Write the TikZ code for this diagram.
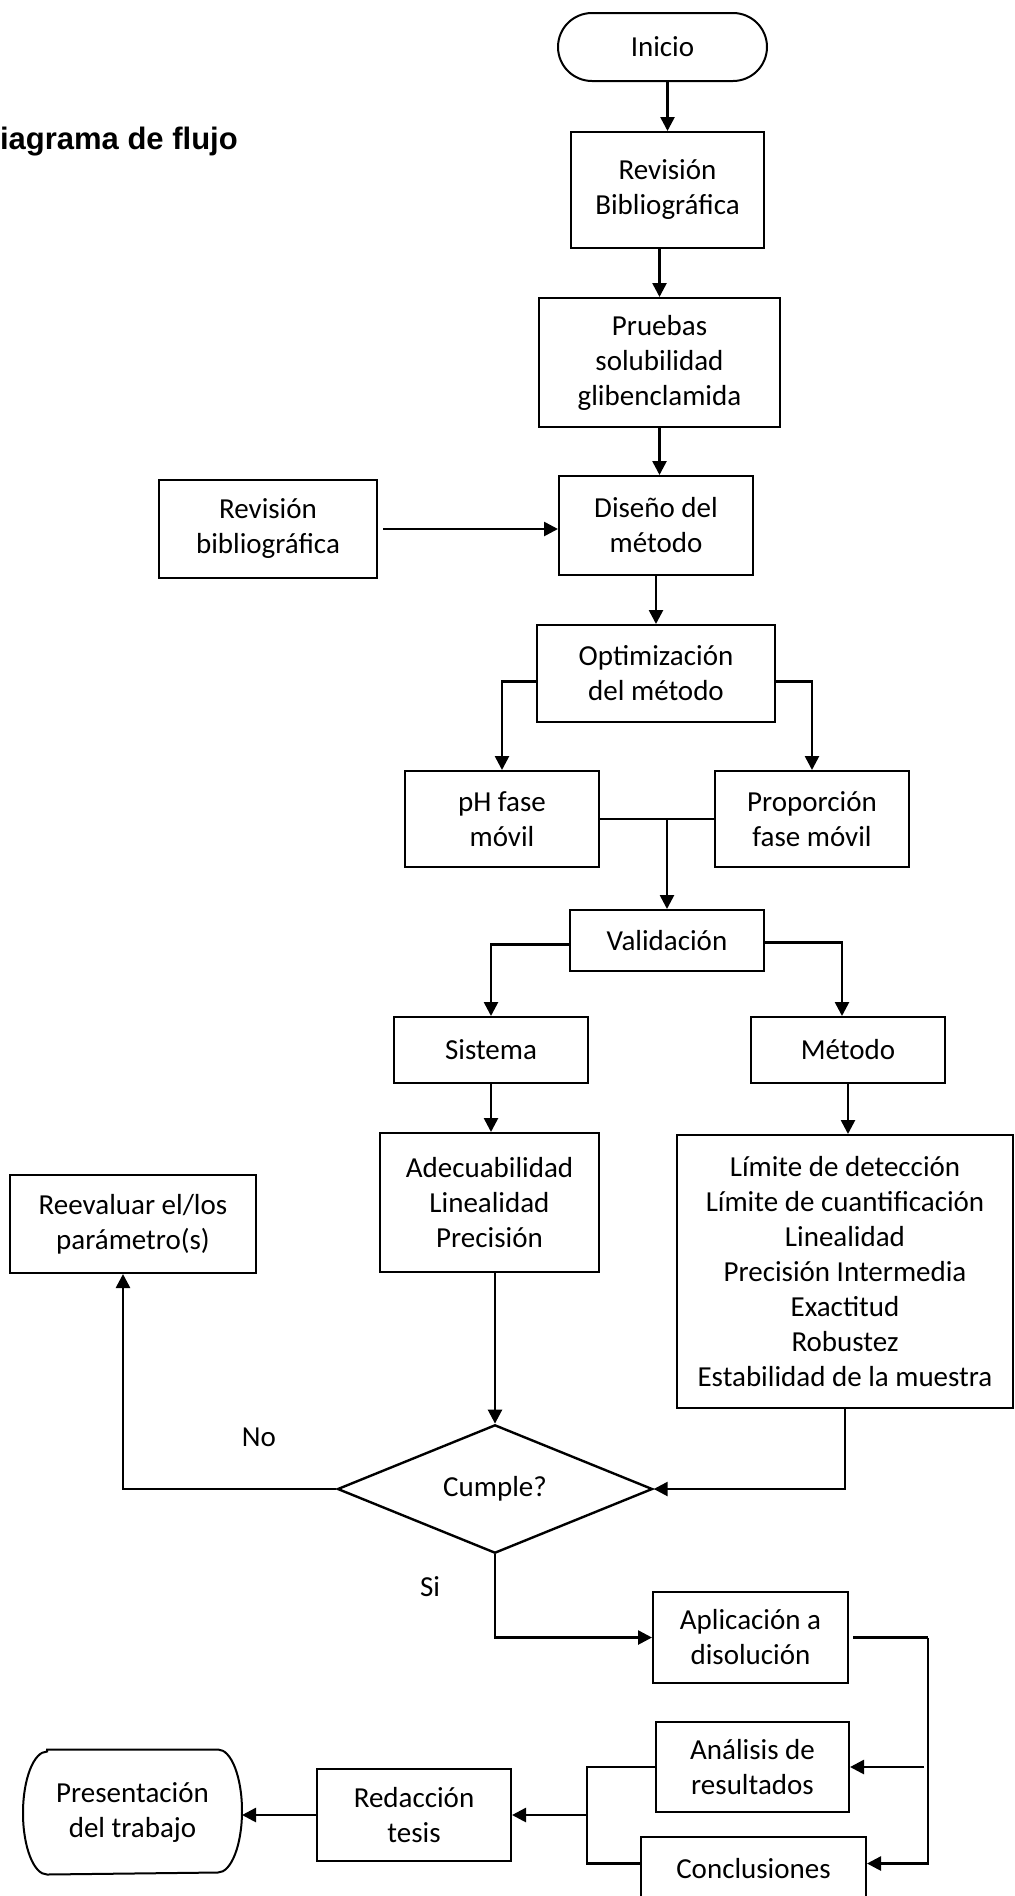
\documentclass[tikz,border=0pt]{standalone}
\usepackage{fontspec}
\setmainfont{Carlito}
\newfontfamily\titulofont{Liberation Sans}
\usetikzlibrary{arrows.meta,shapes.geometric,shapes.misc}

\begin{document}
\begin{tikzpicture}[x=0.5pt,y=-0.5pt,font=\fontsize{14.5}{17.5}\selectfont]
        \tikzset{
        caja/.style={draw, line width=1pt, align=center, inner sep=0pt},
        tam/.style 2 args={minimum width=#1*0.5pt, minimum height=#2*0.5pt},
        term/.style={rounded rectangle, draw, line width=1pt, align=center, inner sep=0pt},
        decision/.style={diamond, draw, line width=1.2pt, inner sep=0pt},
        flecha/.style={-{Triangle[length=7pt,width=7pt]}, line width=1.3pt},
        linea/.style={-, line width=1.3pt}
        }
        \useasboundingbox (0,0) rectangle (1015,1896);
        \clip (0,0) rectangle (1015,1896);

        \node[anchor=base west, font=\titulofont\bfseries\fontsize{15.5}{18}\selectfont] (titulo) at (-7,149) {iagrama de flujo};

        \node[term, tam={209}{68}] (inicio) at (662.5,47) {Inicio};
        \node[caja, tam={193}{116}] (revbib) at (667.5,190) {Revisión\\Bibliográfica};
        \node[caja, tam={241}{129}] (pruebas) at (659.5,362.5) {Pruebas\\solubilidad\\glibenclamida};
        \node[caja, tam={194}{99}] (diseno) at (656,525.5) {Diseño del\\método};
        \node[caja, tam={218}{98}] (revbib2) at (268,529) {Revisión\\bibliográfica};
        \node[caja, tam={238}{97}] (optim) at (656,673.5) {Optimización\\del método};
        \node[caja, tam={194}{96}] (ph) at (502,819) {pH fase\\móvil};
        \node[caja, tam={194}{96}] (prop) at (812,819) {Proporción\\fase móvil};
        \node[caja, tam={194}{61}] (valid) at (667,940.5) {Validación};
        \node[caja, tam={194}{66}] (sistema) at (491,1050) {Sistema};
        \node[caja, tam={194}{66}] (metodo) at (848,1050) {Método};
        \node[caja, tam={219}{139}] (adecua) at (489.5,1202.5) {Adecuabilidad\\Linealidad\\Precisión};
        \node[caja, tam={336}{273}] (limite) at (845,1271.5) {Límite de detección\\Límite de cuantificación\\Linealidad\\Precisión Intermedia\\Exactitud\\Robustez\\Estabilidad de la muestra};
        \node[caja, tam={246}{98}] (reeval) at (133,1224) {Reevaluar el/los\\parámetro(s)};
        \node[decision, tam={315}{107}] (cumple) at (495,1489) {Cumple?};
        \node (lblno) at (259,1437) {No};
        \node (lblsi) at (430,1587) {Si};
        \node[caja, tam={195}{91}] (aplic) at (750.5,1637.5) {Aplicación a\\disolución};
        \node[caja, tam={193}{90}] (analisis) at (752.5,1767) {Análisis de\\resultados};
        \node[caja, tam={225}{63}] (concl) at (753.5,1868.5) {Conclusiones};
        \node[caja, tam={194}{92}] (redac) at (414,1815) {Redacción\\tesis};
        \node[caja, draw=none, tam={217}{123}] (present) at (132.5,1812) {Presentación\\del trabajo};
        % borde del terminal final, con extremos elipticos
        \draw[line width=1pt] ([xshift=12pt]present.north west) -- ([xshift=-12pt]present.north east)
            arc[start angle=90, end angle=-90, x radius=12pt, y radius=30.75pt]
            -- ([xshift=12pt]present.south west)
            arc[start angle=270, end angle=90, x radius=12pt, y radius=30.75pt] -- cycle;

        % flujo principal
        \draw[flecha] (inicio.south -| revbib.north) -- (revbib.north);
        \draw[flecha] (pruebas.north |- revbib.south) -- (pruebas.north);
        \draw[flecha] (pruebas.south) -- (pruebas.south |- diseno.north);
        \draw[flecha] ([xshift=2.5pt]revbib2.east) -- (revbib2.east -| diseno.west);
        \draw[flecha] (diseno) -- (optim);
        \draw[flecha] ([yshift=-4pt]optim.west) -| (ph.north);
        \draw[flecha] ([yshift=-4pt]optim.east) -| (prop.north);
        \draw[linea] (ph.east) -- (prop.west);
        \draw[flecha] (valid.north |- ph.east) -- (valid.north);
        \draw[flecha] ([yshift=-2pt]valid.west) -| (sistema.north);
        \draw[flecha] ([yshift=-1pt]valid.east) -| ([xshift=-3pt]metodo.north);
        \draw[flecha] (sistema) -- (sistema |- adecua.north);
        \draw[flecha] (metodo) -- (metodo |- limite.north);

        % decision
        \draw[flecha] (adecua.south -| cumple.north) -- (cumple.north);
        \draw[flecha] (cumple.west) -| ([xshift=-5pt]reeval.south);
        \draw[flecha] (limite.south) |- (cumple.east);
        \draw[flecha] (cumple.south) |- (aplic.west);

        % cierre
        \coordinate (der) at ([xshift=39.5pt]aplic.east);
        \draw[linea] ([xshift=2pt]aplic.east) -- (der);
        \draw[flecha] (der) |- ([yshift=2.5pt]concl.east);
        \draw[flecha] ([xshift=-2pt]der |- analisis.east) -- (analisis.east);
        \coordinate (izq) at ([xshift=-34pt]analisis.west);
        \draw[linea] (analisis.west) -- (izq) |- ([yshift=2.5pt]concl.west);
        \draw[flecha] (izq |- redac.east) -- (redac.east);
        \draw[flecha] (redac.west) -- (redac.west -| present.east);
\end{tikzpicture}
\end{document}
